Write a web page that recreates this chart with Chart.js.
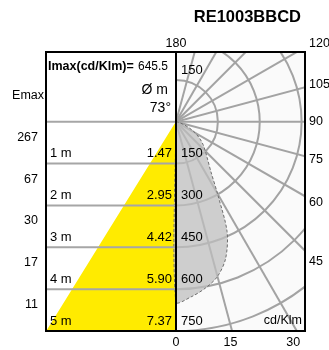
<!DOCTYPE html>
<html><head><meta charset="utf-8">
<script src="https://cdn.jsdelivr.net/npm/chart.js@4.4.1/dist/chart.umd.min.js"></script>
<style>html,body{margin:0;padding:0;background:#fff}#wrap{width:329px;height:350px;position:relative}</style>
</head><body><div id="wrap"><canvas id="c"></canvas></div>
<script>
const title = 'RE1003BBCD';
const distanceLabels = ['1 m','2 m','3 m','4 m','5 m'];
const diameters = [1.47, 2.95, 4.42, 5.90, 7.37];
const emaxValues = [267, 67, 30, 17, 11];
const imax = 645.5;
const beamAngle = 73;
const ringValues = [150, 300, 450, 600, 750];
const radialAngles = [0, 15, 30, 45, 60, 75, 90, 105, 120, 135, 150, 165, 180];
const sideAngleLabels = [45, 60, 75, 90, 105, 120];
const bottomAngleLabels = [0, 15, 30];
const topAngleLabel = 180;
const curveAngles =    [85, 80, 75, 70, 65, 60, 55, 50, 45, 40, 35, 30, 25, 20, 15, 10, 5, 0];
const curveIntensity = [0, 6, 16, 32, 55, 80, 105, 128, 150, 178, 220, 300, 435, 522, 575, 606, 630, 645.5];

const FONT = '"Liberation Sans", Arial, Helvetica, sans-serif';
const CONE_SCALE = 63;
const DEG = Math.PI / 180;

const curvePoints = curveAngles.map((a, i) => ({x: curveIntensity[i] * Math.sin(a * DEG), y: -curveIntensity[i] * Math.cos(a * DEG)}));
curvePoints.push({x: 0, y: 0});
const conePoints = diameters.map((d, i) => ({x: -d * CONE_SCALE, y: -ringValues[i]})).reverse();
conePoints.push({x: 0, y: 0});

function txt(ctx, s, x, y, align, font, color) {
  ctx.font = font; ctx.textAlign = align; ctx.textBaseline = 'middle';
  ctx.fillStyle = color || '#000'; ctx.fillText(s, x, y);
}

const deco = {
  id: 'deco',
  beforeDatasetsDraw(chart) {
    const {ctx, chartArea: a, scales: {x, y}} = chart;
    const cx = Math.round(x.getPixelForValue(0)), cy = y.getPixelForValue(0);
    ctx.save();
    ctx.fillStyle = '#fafafa';
    ctx.fillRect(cx, a.top, a.right - cx, a.bottom - a.top);
    ctx.beginPath(); ctx.rect(cx, a.top, a.right - cx, a.bottom - a.top); ctx.clip();
    ctx.strokeStyle = '#a3a3a3'; ctx.lineWidth = 2;
    ringValues.forEach(r => {
      const rp = x.getPixelForValue(r) - x.getPixelForValue(0);
      ctx.beginPath(); ctx.arc(cx, cy, rp, 0, 2 * Math.PI); ctx.stroke();
    });
    radialAngles.forEach(t => {
      ctx.beginPath(); ctx.moveTo(cx, cy);
      ctx.lineTo(cx + 500 * Math.sin(t * DEG), cy + 500 * Math.cos(t * DEG)); ctx.stroke();
    });
    ctx.restore();
  },
  afterDatasetsDraw(chart) {
    const {ctx, chartArea: a, scales: {x, y}} = chart;
    const cx = Math.round(x.getPixelForValue(0)), cy = y.getPixelForValue(0);
    ctx.save();
    ctx.strokeStyle = '#a6a6a6'; ctx.lineWidth = 2;
    [0].concat(ringValues.slice(0, 4)).forEach(v => {
      const py = y.getPixelForValue(-v);
      ctx.beginPath(); ctx.moveTo(a.left, py); ctx.lineTo(cx, py); ctx.stroke();
    });
    ctx.strokeStyle = '#000'; ctx.lineWidth = 2;
    ctx.strokeRect(a.left, a.top, cx - a.left, a.bottom - a.top);
    ctx.strokeRect(cx, a.top, a.right - cx, a.bottom - a.top);
    txt(ctx, title, 301, 17, 'right', 'bold 16.5px ' + FONT);
    txt(ctx, 'Imax(cd/Klm)=', a.left + 2, 67, 'left', 'bold 12.5px ' + FONT);
    txt(ctx, String(imax), cx - 8, 67, 'right', '12px ' + FONT);
    txt(ctx, 'Ø m', cx - 8, 90, 'right', '14px ' + FONT);
    txt(ctx, beamAngle + '°', cx - 5, 108, 'right', '14px ' + FONT);
    txt(ctx, 'Emax', a.left - 2, 96, 'right', '12.5px ' + FONT);
    distanceLabels.forEach((lab, i) => {
      const top = y.getPixelForValue(-(i === 0 ? 0 : ringValues[i - 1]));
      const bot = y.getPixelForValue(-ringValues[i]);
      txt(ctx, String(emaxValues[i]), a.left - 8, top + 15.5, 'right', '12.5px ' + FONT);
      txt(ctx, lab, a.left + 4, bot - 10, 'left', '13px ' + FONT);
      txt(ctx, diameters[i].toFixed(2), cx - 4, bot - 10, 'right', '13px ' + FONT);
    });
    ringValues.forEach(r => {
      const py = y.getPixelForValue(-r);
      txt(ctx, String(r), cx + 5, py - 10, 'left', '13px ' + FONT);
    });
    txt(ctx, String(ringValues[0]), cx + 5, y.getPixelForValue(ringValues[0]) - 9, 'left', '13px ' + FONT);
    txt(ctx, 'cd/Klm', a.right - 3, a.bottom - 10, 'right', '12.5px ' + FONT);
    txt(ctx, String(topAngleLabel), cx, 44, 'center', '12.5px ' + FONT);
    sideAngleLabels.forEach(t => {
      const py = cy + 140 * Math.cos(t * DEG) / Math.sin(t * DEG);
      txt(ctx, String(t), a.right + 4, Math.max(44, py), 'left', '12.5px ' + FONT);
    });
    bottomAngleLabels.forEach(t => {
      const px = cx + (a.bottom - cy) * Math.tan(t * DEG) * 0.97;
      txt(ctx, String(t), px, a.bottom + 12, 'center', '12.5px ' + FONT);
    });
    ctx.restore();
  }
};

new Chart(document.getElementById('c'), {
  type: 'scatter',
  data: {datasets: [
    {data: curvePoints, showLine: true, fill: 'shape', backgroundColor: 'rgba(190,190,190,0.74)',
     borderColor: '#6e6e6e', borderWidth: 1, borderDash: [3, 2], pointRadius: 0, tension: 0.3},
    {data: conePoints, showLine: true, fill: 'start', backgroundColor: '#ffeb00',
     borderColor: '#ffeb00', borderWidth: 0, pointRadius: 0, tension: 0}
  ]},
  options: {
    responsive: true, maintainAspectRatio: false, animation: false,
    layout: {padding: {left: 46, right: 24, top: 52, bottom: 19}},
    plugins: {legend: {display: false}, tooltip: {enabled: false}},
    scales: {
      x: {type: 'linear', min: -465, max: 463, display: false},
      y: {type: 'linear', min: -750, max: 250, display: false}
    }
  },
  plugins: [deco]
});
</script></body></html>
